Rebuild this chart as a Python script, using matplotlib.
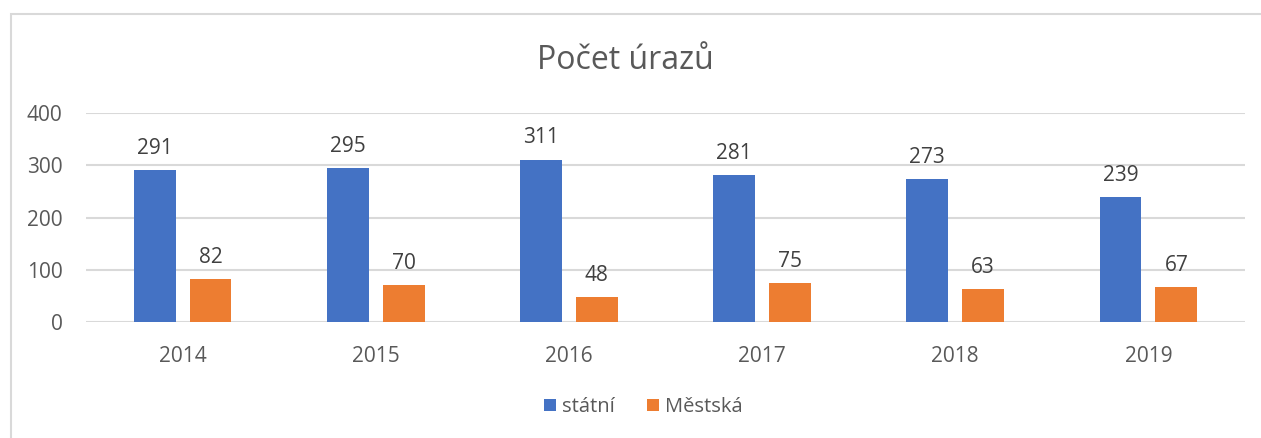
import matplotlib.pyplot as plt
from matplotlib.patches import Rectangle
import numpy as np

years = ['2014', '2015', '2016', '2017', '2018', '2019']
statni = [291, 295, 311, 281, 273, 239]
mestska = [82, 70, 48, 75, 63, 67]

plt.rcParams['font.family'] = ['Open Sans', 'DejaVu Sans']
text_color = '#595959'
grid_color = '#D9D9D9'

fig = plt.figure(figsize=(12.61, 4.38), dpi=100)
ax = fig.add_axes([86 / 1261, 1 - 322 / 438, (1245 - 86) / 1261, (322 - 113) / 438])

x = np.arange(len(years))
w = 0.217
gap = 0.072
b1 = ax.bar(x - (w + gap) / 2, statni, w, color='#4472C4', label='státní')
b2 = ax.bar(x + (w + gap) / 2, mestska, w, color='#ED7D31', label='Městská')

# popisky hodnot nad sloupci
for bars, vals in ((b1, statni), (b2, mestska)):
    for b, v in zip(bars, vals):
        ax.annotate(str(v), (b.get_x() + b.get_width() / 2, v), xytext=(0, 8),
                    textcoords='offset points', ha='center', va='bottom',
                    fontsize=15, color='#404040')

ax.set_xlim(-0.5, len(years) - 0.5)
ax.set_ylim(0, 400)
ax.set_yticks([0, 100, 200, 300, 400])
ax.set_xticks(x)
ax.set_xticklabels(years)
ax.yaxis.grid(True, color=grid_color, linewidth=1.5)
ax.set_axisbelow(True)
for s in ax.spines.values():
    s.set_visible(False)
ax.tick_params(length=0, labelsize=15, colors=text_color)
ax.tick_params(axis='x', pad=17)
ax.tick_params(axis='y', pad=17)

fig.text(0.496, 1 - 69 / 438, 'Počet úrazů', ha='center', va='baseline',
         fontsize=23, color=text_color)

fig.legend(loc='center', bbox_to_anchor=(0.51, 1 - 407 / 438), ncol=2,
           frameon=False, fontsize=14.5, labelcolor=text_color,
           handlelength=0.6, handleheight=0.6, handletextpad=0.3, columnspacing=1.6)

fig.patches.append(Rectangle((11 / 1261, -0.1), 1.2, 1 - 14 / 438 + 0.1,
                             transform=fig.transFigure, fill=False,
                             edgecolor=grid_color, linewidth=1.5))

fig.savefig('out.png', dpi=100, facecolor='white')
